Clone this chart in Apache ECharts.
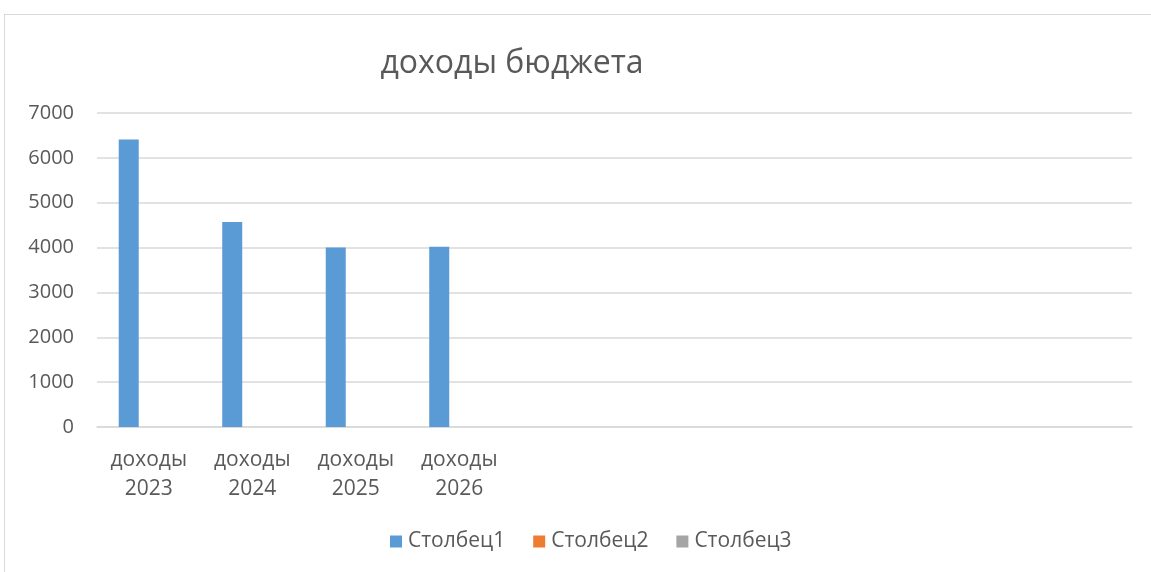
<!DOCTYPE html>
<html>
<head>
<meta charset="utf-8">
<script src="https://cdn.jsdelivr.net/npm/echarts@6/dist/echarts.min.js"></script>
<style>
  html, body { margin: 0; padding: 0; background: #fff; }
  #frame { position: absolute; left: 4px; top: 14px; width: 1160px; height: 570px; border: 1px solid #d9d9d9; box-sizing: border-box; }
  #chart { position: absolute; left: 0; top: 0; width: 1151px; height: 572px; }
</style>
</head>
<body>
<div id="frame"></div>
<div id="chart"></div>
<script>
// категории: 4 с подписями, остальные пустые (как в исходной таблице)
var categories = ['доходы\n2023', 'доходы\n2024', 'доходы\n2025', 'доходы\n2026', '', '', '', '', '', ''];
var column1 = [6410, 4570, 4000, 4020, null, null, null, null, null, null];
var column2 = [null, null, null, null, null, null, null, null, null, null];
var column3 = [null, null, null, null, null, null, null, null, null, null];
var seriesNames = ['Столбец1', 'Столбец2', 'Столбец3'];
var seriesColors = ['#5b9bd5', '#ed7d31', '#a5a5a5'];

var chart = echarts.init(document.getElementById('chart'), null, { renderer: 'canvas' });

var font = '"Open Sans", "Noto Sans", sans-serif';

function makeSeries(name, data, color) {
  return {
    name: name,
    type: 'bar',
    data: data,
    barGap: '0%',
    barCategoryGap: '42%',
    itemStyle: { color: color },
    emphasis: { disabled: true }
  };
}

var option = {
  backgroundColor: 'transparent',
  animation: false,
  title: {
    text: 'доходы бюджета',
    left: 507,
    textAlign: 'center',
    top: 43,
    textStyle: { fontFamily: font, fontSize: 32, fontWeight: 'normal', color: '#595959' }
  },
  legend: {
    data: seriesNames,
    left: 390,
    top: 531,
    padding: 0,
    itemWidth: 12,
    itemHeight: 12,
    itemGap: 28,
    icon: 'rect',
    textStyle: { fontFamily: font, fontSize: 21, color: '#595959', padding: [0, 0, 0, 1] }
  },
  grid: {
    left: 97,
    right: 19,
    top: 113,
    bottom: 145,
    containLabel: false
  },
  xAxis: {
    type: 'category',
    data: categories,
    axisLine: { lineStyle: { color: '#d9d9d9', width: 1.5 } },
    axisTick: { show: false },
    axisLabel: {
      interval: 0,
      margin: 19,
      lineHeight: 29,
      fontFamily: font,
      fontSize: 21,
      color: '#595959'
    }
  },
  yAxis: {
    type: 'value',
    min: 0,
    max: 7000,
    interval: 1000,
    axisLine: { show: false },
    axisTick: { show: false },
    splitLine: { lineStyle: { color: '#d9d9d9', width: 1.5 } },
    axisLabel: {
      margin: 23,
      fontFamily: font,
      fontSize: 20,
      color: '#595959',
      formatter: function (v) { return String(v); }
    }
  },
  series: [
    makeSeries(seriesNames[0], column1, seriesColors[0]),
    makeSeries(seriesNames[1], column2, seriesColors[1]),
    makeSeries(seriesNames[2], column3, seriesColors[2])
  ]
};

chart.setOption(option);
</script>
</body>
</html>
